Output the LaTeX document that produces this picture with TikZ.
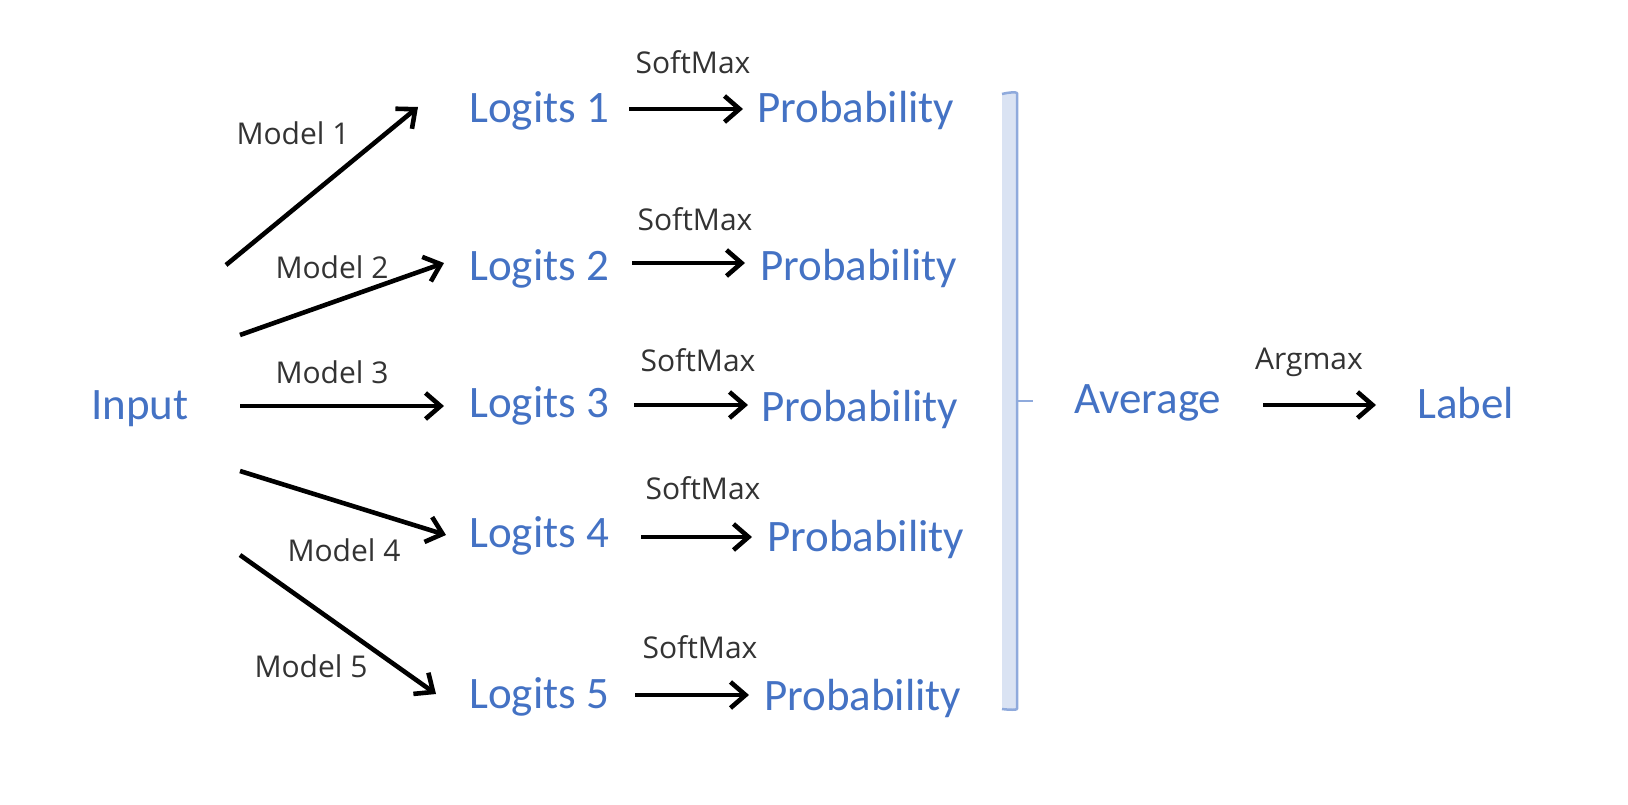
\documentclass[tikz,border=0pt]{standalone}
\usepackage{fontspec}
\setmainfont{Carlito}
\newfontfamily\lblfont{Open Sans}
\usetikzlibrary{arrows.meta}
\definecolor{txtblue}{HTML}{4472C4}
\definecolor{lbldark}{HTML}{333333}
\definecolor{brfill}{HTML}{DAE3F3}
\definecolor{brline}{HTML}{8FAADC}
\begin{document}
\begin{tikzpicture}[x=1pt,y=-1pt,
  bluetxt/.style={text=txtblue,font=\fontsize{45}{50}\selectfont,inner sep=0pt,anchor=base west},
  darklbl/.style={text=lbldark,font=\lblfont\fontsize{30}{34}\selectfont,inner sep=0pt,anchor=base},
  flow/.style={line width=4.6pt,-{Straight Barb[length=15pt,width=26pt,line width=4.6pt]}},
]
\useasboundingbox (0,0) rectangle (1628,804);
% blue texts
\node[bluetxt] (input) at (91,419) {Input};
\foreach \i/\y/\py/\px in {1/122/122/757, 2/280/280/760, 3/417/421/761, 4/547/551/767, 5/708/710/764}{
  \node[bluetxt] (log\i) at (469,\y) {Logits \i};
  \node[bluetxt] (prob\i) at (\px,\py) {Probability};
}
\node[bluetxt] (avg) at (1074,413) {Average};
\node[bluetxt] (lab) at (1417,418) {Label};
% labels
\node[darklbl] (ml1) at (293,144) {Model 1};
\node[darklbl] (ml2) at (332,278) {Model 2};
\node[darklbl] (ml3) at (332,383) {Model 3};
\node[darklbl] (ml4) at (344,561) {Model 4};
\node[darklbl] (ml5) at (311,677) {Model 5};
\node[darklbl] (sm1) at (693,73) {SoftMax};
\node[darklbl] (sm2) at (695,230) {SoftMax};
\node[darklbl] (sm3) at (698,371) {SoftMax};
\node[darklbl] (sm4) at (703,499) {SoftMax};
\node[darklbl] (sm5) at (700,658) {SoftMax};
\node[darklbl] (amx) at (1309,369) {Argmax};
% arrow ends
\coordinate (m1s) at (226,265); \coordinate (m1e) at (418,107);
\coordinate (m2s) at (240,335); \coordinate (m2e) at (444,263);
\coordinate (m3s) at (240,406); \coordinate (m3e) at (444,406);
\coordinate (m4s) at (240,471); \coordinate (m4e) at (446,535);
\coordinate (m5s) at (240,555); \coordinate (m5e) at (436,694);
\coordinate (s1s) at (629,109); \coordinate (s1e) at (743,109);
\coordinate (s2s) at (632,263); \coordinate (s2e) at (745,263);
\coordinate (s3s) at (634,405); \coordinate (s3e) at (748,405);
\coordinate (s4s) at (641,537); \coordinate (s4e) at (752,537);
\coordinate (s5s) at (635,695); \coordinate (s5e) at (749,695);
\coordinate (as) at (1263,405); \coordinate (ae) at (1376,405);
\foreach \a/\b in {m1s/m1e,m2s/m2e,m3s/m3e,m4s/m4e,m5s/m5e,s1s/s1e,s2s/s2e,s3s/s3e,s4s/s4e,s5s/s5e,as/ae}
  \draw[flow] (\a) -- (\b);
% bracket
\coordinate (brtop) at (1017,93);
\coordinate (brbot) at (1017,709);
\coordinate (brmid) at (1017,401);
\coordinate (brtick) at (1033,401);
\fill[brfill] (1002,93) rectangle (1017,709);
\draw[brline,line width=2.5pt,line join=round] (1002,94) .. controls (1010,92) and (1016,92) .. (brtop) -- (brbot) .. controls (1016,710) and (1010,710) .. (1002,709);
\draw[brline,line width=2.5pt] (brmid) -- (brtick);
\end{tikzpicture}
\end{document}
